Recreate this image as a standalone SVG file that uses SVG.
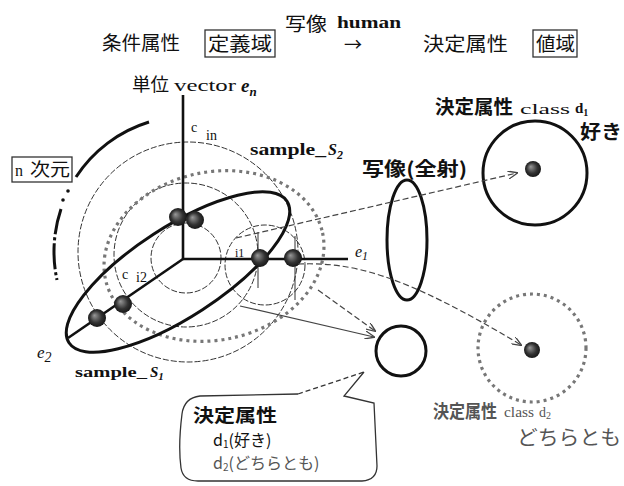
<svg xmlns="http://www.w3.org/2000/svg" width="624" height="486" viewBox="0 0 624 486">
<style>
.jp{font-family:"Noto Sans CJK JP","Noto Sans CJK SC",sans-serif;fill:#111}
.b{font-weight:bold}
.sr{font-family:"Liberation Serif",serif;fill:#111}
.gr{fill:#555}
.thin{fill:none;stroke:#333;stroke-width:1;stroke-dasharray:6 2}
.axis{fill:none;stroke:#111;stroke-width:2.6}
.thick{fill:none;stroke:#111;stroke-width:3}
.dot{fill:none;stroke:#777;stroke-width:3.2;stroke-dasharray:3 4}
.con{fill:none;stroke:#444;stroke-width:1.2}
.dash{stroke-dasharray:6 3}
.ball{fill:url(#bg)}
.box{fill:none;stroke:#333;stroke-width:1.3}
</style>
<defs>
<radialGradient id="bg" cx="0.5" cy="0.5" r="0.55" fx="0.35" fy="0.35">
<stop offset="0" stop-color="#999"/>
<stop offset="0.6" stop-color="#333"/>
<stop offset="1" stop-color="#111"/>
</radialGradient>
<marker id="ah" viewBox="0 0 10 8" refX="9" refY="4" markerWidth="10" markerHeight="8" markerUnits="userSpaceOnUse" orient="auto">
<path d="M0,0 L10,4 L0,8" fill="none" stroke="#444" stroke-width="1.3"/>
</marker>
</defs>
<rect width="624" height="486" fill="#fff"/>

<g id="header">
<text class="jp" x="102" y="50" font-size="19" textLength="78" lengthAdjust="spacingAndGlyphs">条件属性</text>
<rect class="box" x="205" y="30" width="70" height="27"/>
<text class="jp" x="208" y="51" font-size="19" textLength="64" lengthAdjust="spacingAndGlyphs">定義域</text>
<text class="jp" x="285" y="31" font-size="19" textLength="42" lengthAdjust="spacingAndGlyphs">写像</text>
<text class="sr b" x="337" y="28" font-size="16" textLength="64" lengthAdjust="spacingAndGlyphs">human</text>
<text class="jp" x="344" y="51" font-size="18">→</text>
<text class="jp" x="423" y="51" font-size="19" textLength="85" lengthAdjust="spacingAndGlyphs">決定属性</text>
<rect class="box" x="533" y="30" width="44" height="27"/>
<text class="jp" x="536" y="51" font-size="19" textLength="39" lengthAdjust="spacingAndGlyphs">値域</text>
</g>

<g id="circles">
<circle class="thin" cx="188" cy="252" r="110"/>
<circle class="thin" cx="186" cy="255" r="72"/>
<circle class="thin" cx="186" cy="258" r="35"/>
<circle class="thin" cx="265" cy="265" r="40"/>
<line x1="258" y1="232" x2="258" y2="288" stroke="#333" stroke-width="1"/>
<line x1="295" y1="236" x2="295" y2="300" stroke="#333" stroke-width="1"/>
</g>

<g id="ndim">
<path d="M149,122 A134,134 0 0 0 76,177" class="thick"/>
<circle cx="68" cy="191" r="1.8" fill="#111"/>
<circle cx="63" cy="200" r="1.8" fill="#111"/>
<path d="M61,209 A134,134 0 0 0 57,280" fill="none" stroke="#111" stroke-width="3" stroke-dasharray="26 3 3 3"/>
<rect class="box" x="12" y="157" width="60" height="25" fill="#fff"/>
<text class="sr" x="15" y="176" font-size="16">n</text>
<text class="jp" x="30" y="176" font-size="18" textLength="40" lengthAdjust="spacingAndGlyphs">次元</text>
</g>

<g id="sample_S2">
<ellipse class="dot" cx="214" cy="256" rx="111" ry="84" transform="rotate(-12 214 256)"/>
<text class="sr b" x="250" y="155" font-size="16" textLength="76" lengthAdjust="spacingAndGlyphs">sample_</text>
<text class="sr b" x="328" y="155" font-size="16" font-style="italic">S<tspan dy="4" font-size="12">2</tspan></text>
</g>

<g id="sample_S1">
<ellipse class="thick" cx="178" cy="272" rx="130" ry="45" transform="rotate(-33 178 272)" stroke-width="3.2"/>
<text class="sr b" x="75" y="377" font-size="15" textLength="72" lengthAdjust="spacingAndGlyphs">sample_</text>
<text class="sr b" x="150" y="377" font-size="15" font-style="italic">S<tspan dy="3" font-size="11">1</tspan></text>
</g>

<g id="axes">
<line class="axis" x1="183" y1="95" x2="183" y2="259"/>
<line class="axis" x1="183" y1="259" x2="348" y2="259"/>
<line class="axis" x1="183" y1="259" x2="68" y2="338"/>
<text class="jp" x="132" y="91" font-size="18" textLength="37" lengthAdjust="spacingAndGlyphs">単位</text>
<text class="sr" x="174" y="91" font-size="16" textLength="62" lengthAdjust="spacingAndGlyphs">vector</text>
<text class="sr b" x="241" y="92" font-size="19" font-style="italic">e<tspan dy="4" font-size="13">n</tspan></text>
<text class="sr" x="355" y="257" font-size="16" font-style="italic">e<tspan dy="3" font-size="12">1</tspan></text>
<text class="sr" x="37" y="358" font-size="17" font-style="italic">e<tspan dy="4" font-size="14">2</tspan></text>
<text class="sr" x="191" y="132" font-size="14">c<tspan x="206" dy="8">in</tspan></text>
<text class="sr" x="122" y="279" font-size="14">c<tspan x="136" dy="3">i2</tspan></text>
<text class="sr" x="235" y="257" font-size="12">i1</text>
</g>

<g id="samples">
<circle class="ball" cx="178" cy="217" r="9"/>
<circle class="ball" cx="195" cy="220" r="9"/>
<circle class="ball" cx="260" cy="258" r="9"/>
<circle class="ball" cx="293" cy="258" r="9"/>
<circle class="ball" cx="123" cy="304" r="9"/>
<circle class="ball" cx="97" cy="318" r="9"/>
</g>

<g id="mapping">
<ellipse class="thick" cx="407" cy="240" rx="20" ry="60"/>
<text class="jp b" x="362" y="176" font-size="19" textLength="105" lengthAdjust="spacingAndGlyphs">写像(全射)</text>
</g>

<g id="class_d1">
<circle class="thick" cx="535" cy="173" r="52"/>
<circle class="ball" cx="533" cy="169" r="8"/>
<text class="jp b" x="435" y="114" font-size="19" textLength="78" lengthAdjust="spacingAndGlyphs">決定属性</text>
<text class="sr" x="520" y="114" font-size="15" textLength="50" lengthAdjust="spacingAndGlyphs">class</text>
<text class="sr b" x="575" y="113" font-size="15">d<tspan dy="3" font-size="10">1</tspan></text>
<text class="jp b" x="580" y="139" font-size="19" textLength="42" lengthAdjust="spacingAndGlyphs">好き</text>
</g>

<g id="class_d2">
<circle class="dot" cx="532" cy="348" r="54"/>
<circle class="ball" cx="532" cy="350" r="8"/>
<text class="jp b gr" x="433" y="418" font-size="18" textLength="64" lengthAdjust="spacingAndGlyphs">決定属性</text>
<text class="sr gr" x="504" y="417" font-size="14" textLength="30" lengthAdjust="spacingAndGlyphs">class</text>
<text class="sr gr" x="539" y="417" font-size="14">d<tspan dy="2" font-size="10">2</tspan></text>
<text class="jp gr" x="517" y="445" font-size="20" textLength="104" lengthAdjust="spacingAndGlyphs">どちらとも</text>
</g>

<g id="human">
<circle class="thick" cx="401" cy="351" r="25"/>
</g>

<g id="connectors">
<line class="con dash" x1="236" y1="238" x2="517" y2="173" marker-end="url(#ah)"/>
<path class="con dash" d="M298,264 C350,262 400,272 521,345" marker-end="url(#ah)"/>
<line class="con dash" x1="318" y1="290" x2="375" y2="331" marker-end="url(#ah)"/>
<line class="con" x1="240" y1="306" x2="374" y2="337" marker-end="url(#ah)"/>
</g>

<g id="callout">
<path d="M298,394 L200,396 Q184,398 182,414 Q178,446 181,468 Q183,481 198,481 L362,481 Q377,480 377,466 L374,403 L344,396 L364,372" fill="none" stroke="#333" stroke-width="1.3"/>
<line x1="298" y1="394" x2="364" y2="372" stroke="#333" stroke-width="1.3" stroke-dasharray="5 3"/>
<text class="jp b" x="193" y="422" font-size="18" textLength="84" lengthAdjust="spacingAndGlyphs">決定属性</text>
<text class="jp" x="213" y="446" font-size="16">d<tspan dy="2" font-size="10">1</tspan><tspan dy="-2">(好き)</tspan></text>
<text class="jp gr" x="213" y="469" font-size="16">d<tspan dy="2" font-size="10">2</tspan><tspan dy="-2">(どちらとも)</tspan></text>
</g>
</svg>
